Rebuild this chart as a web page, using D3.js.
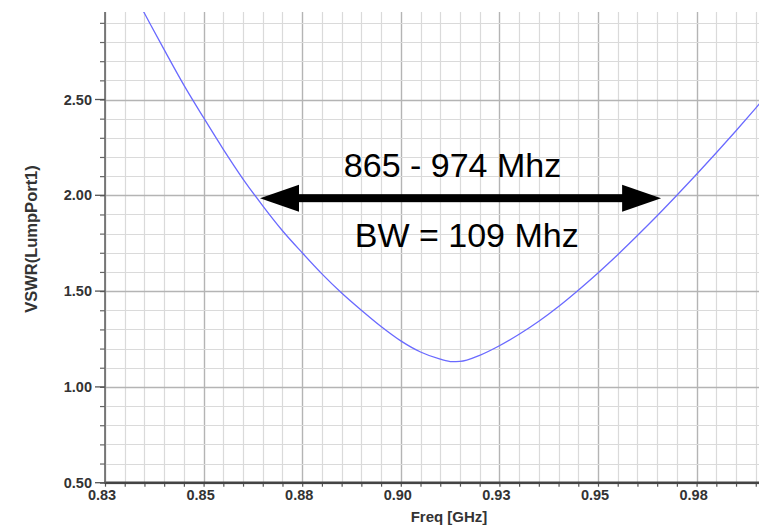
<!DOCTYPE html>
<html>
<head>
<meta charset="utf-8">
<script src="https://cdn.jsdelivr.net/npm/d3@7"></script>
<style>
  html, body { margin: 0; padding: 0; background: #fff; }
  svg { display: block; }
  text { font-family: "Liberation Sans", Arial, sans-serif; }
</style>
</head>
<body>
<svg id="chart" width="759" height="527"></svg>
<script>
// ---- data ----
const freqGHz = [0.835, 0.840, 0.845, 0.850, 0.855, 0.860, 0.865, 0.870, 0.875, 0.880, 0.885, 0.890, 0.895, 0.900, 0.905, 0.910, 0.915, 0.918, 0.920, 0.925, 0.930, 0.935, 0.940, 0.945, 0.950, 0.955, 0.960, 0.965, 0.970, 0.975, 0.980, 0.985, 0.990, 0.995, 1.000];
const vswr    = [3.14, 2.95, 2.76, 2.575, 2.405, 2.24, 2.085, 1.945, 1.815, 1.70, 1.59, 1.49, 1.40, 1.315, 1.24, 1.182, 1.145, 1.132, 1.133, 1.165, 1.215, 1.275, 1.343, 1.42, 1.505, 1.595, 1.69, 1.79, 1.893, 2.0, 2.11, 2.222, 2.337, 2.455, 2.575];
const xTickValues = [0.83, 0.855, 0.88, 0.905, 0.93, 0.955, 0.98];
const xTickLabels = ["0.83", "0.85", "0.88", "0.90", "0.93", "0.95", "0.98"];
const yTickValues = [0.5, 1.0, 1.5, 2.0, 2.5];
const yTickLabels = ["0.50", "1.00", "1.50", "2.00", "2.50"];
const bandEdges = [0.8693, 0.9710];   // arrow end points (GHz)
const bandLevel = [1.985];            // arrow level (VSWR)
const annotationTexts = ["865 - 974 Mhz", "BW = 109 Mhz"];
const xTitle = "Freq [GHz]";
const yTitle = "VSWR(LumpPort1)";

// ---- layout ----
const svg = d3.select("#chart");
const L = 105, T = 12, B = 482.7, R = 775;
const x = d3.scaleLinear().domain([0.83, 0.83 + (R - L) / 3944]).range([L, R]);
const y = d3.scaleLinear().domain([0.5, 0.5 + (B - T) / 191.6]).range([B, T]);

const minorX = d3.range(0, 40).map(i => 0.83 + i * 0.005).filter(v => x(v) <= 760);
const minorY = d3.range(0, 25).map(i => 0.5 + i * 0.1).filter(v => y(v) >= T - 0.5);

const grid = svg.append("g");
grid.selectAll("line.vx").data(minorX).join("line")
  .attr("x1", d => Math.round(x(d)) + 0.5).attr("x2", d => Math.round(x(d)) + 0.5)
  .attr("y1", T).attr("y2", B)
  .attr("stroke", (d, i) => i % 5 === 0 ? "#b4b4b4" : "#dadada")
  .attr("stroke-width", (d, i) => i % 5 === 0 ? 1.4 : 1.2);
grid.selectAll("line.hy").data(minorY).join("line")
  .attr("y1", d => Math.round(y(d)) + 0.5).attr("y2", d => Math.round(y(d)) + 0.5)
  .attr("x1", L).attr("x2", 759)
  .attr("stroke", (d, i) => i % 5 === 0 ? "#b4b4b4" : "#dadada")
  .attr("stroke-width", (d, i) => i % 5 === 0 ? 1.4 : 1.2);

// clip
svg.append("clipPath").attr("id", "clip").append("rect")
  .attr("x", L).attr("y", T).attr("width", 759 - L).attr("height", B - T);

// curve
const pts = freqGHz.map((f, i) => [f, vswr[i]]);
svg.append("path").attr("clip-path", "url(#clip)")
  .attr("d", d3.line().x(d => x(d[0])).y(d => y(d[1])).curve(d3.curveMonotoneX)(pts))
  .attr("fill", "none").attr("stroke", "#6a6aff").attr("stroke-width", 1.3);

// axes
const axX = svg.append("g").attr("transform", `translate(0,${B})`);
axX.call(d3.axisBottom(x).tickValues(minorX).tickSize(4).tickFormat(""));
axX.select(".domain").remove();
axX.selectAll(".tick line").attr("stroke", "#555").attr("stroke-width", 1.2);
axX.append("line").attr("x1", L - 1).attr("x2", 759).attr("y1", 0).attr("y2", 0)
  .attr("stroke", "#444").attr("stroke-width", 2.4);
axX.selectAll("text.lbl").data(xTickValues).join("text")
  .attr("class", "lbl")
  .attr("x", (d, i) => x(d) - 3).attr("y", 17.5)
  .attr("text-anchor", "middle").attr("font-size", 14.5).attr("font-weight", "bold")
  .attr("fill", "#333").text((d, i) => xTickLabels[i]);

const axY = svg.append("g").attr("transform", `translate(${L},0)`);
axY.call(d3.axisLeft(y).tickValues(minorY).tickSize(5).tickFormat(""));
axY.select(".domain").remove();
axY.selectAll(".tick line").attr("stroke", "#666").attr("stroke-width", 1.2);
axY.append("line").attr("x1", 0).attr("x2", 0).attr("y1", T).attr("y2", B)
  .attr("stroke", "#666").attr("stroke-width", 1.6);
axY.selectAll("line.maj").data(yTickValues).join("line")
  .attr("x1", -10).attr("x2", 0).attr("y1", d => y(d)).attr("y2", d => y(d))
  .attr("stroke", "#555").attr("stroke-width", 1.3);
axY.selectAll("text.lbl").data(yTickValues).join("text")
  .attr("class", "lbl")
  .attr("x", -13).attr("y", d => y(d) + 5)
  .attr("text-anchor", "end").attr("font-size", 14.5).attr("font-weight", "bold")
  .attr("fill", "#333").text((d, i) => yTickLabels[i]);

// titles
svg.append("text").attr("x", 449).attr("y", 522).attr("text-anchor", "middle")
  .attr("font-size", 15).attr("font-weight", "bold").attr("fill", "#333").text(xTitle);
svg.append("text").attr("transform", "translate(36.5,239) rotate(-90)").attr("text-anchor", "middle")
  .attr("font-size", 16.5).attr("font-weight", "bold").attr("fill", "#333").text(yTitle);

// annotation arrow
const ay = y(bandLevel[0]);
const x0 = x(bandEdges[0]), x1 = x(bandEdges[1]);
const headL = 39, headH = 13.5, shaft = 4;
const arrow = svg.append("g");
arrow.append("rect").attr("x", x0 + headL - 1).attr("y", ay - shaft)
  .attr("width", x1 - x0 - 2 * headL + 2).attr("height", 2 * shaft).attr("fill", "#000");
arrow.append("path").attr("d", `M${x0},${ay} L${x0 + headL},${ay - headH} L${x0 + headL},${ay + headH} Z`).attr("fill", "#000");
arrow.append("path").attr("d", `M${x1},${ay} L${x1 - headL},${ay - headH} L${x1 - headL},${ay + headH} Z`).attr("fill", "#000");

svg.append("text").attr("x", 452.5).attr("y", 176.5).attr("text-anchor", "middle")
  .attr("font-size", 34).attr("fill", "#000").text(annotationTexts[0]);
svg.append("text").attr("x", 466.7).attr("y", 247).attr("text-anchor", "middle")
  .attr("font-size", 34).attr("fill", "#000").text(annotationTexts[1]);
</script>
</body>
</html>
